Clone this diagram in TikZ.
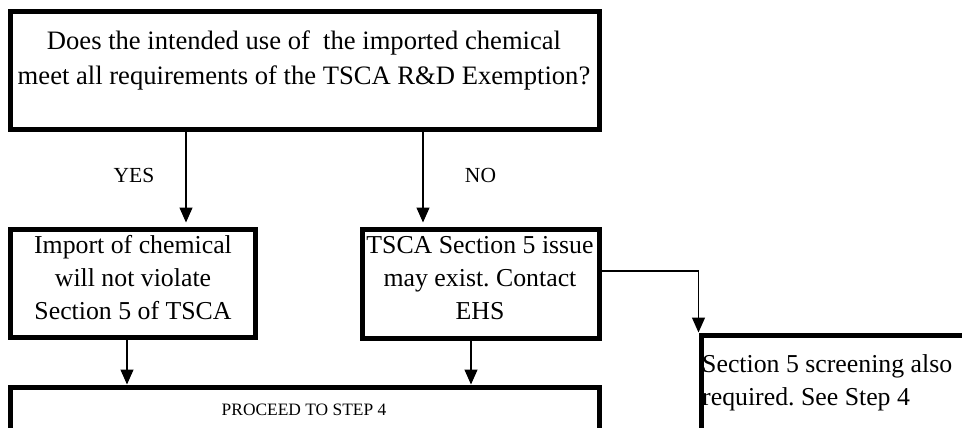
\documentclass[tikz,border=0pt]{standalone}
\usepackage{fontspec}
\setmainfont{Liberation Serif}
\usetikzlibrary{arrows.meta}
\frenchspacing
\begin{document}
\begin{tikzpicture}[x=1pt,y=-1pt,
  box/.style={draw=black,line width=5pt,rectangle,inner sep=0pt},
  bigtxt/.style={font=\fontsize{25.8}{33}\selectfont,align=center,inner sep=0pt},
  toptxt/.style={font=\fontsize{26.6}{35}\selectfont,align=center,inner sep=0pt},
  smalltxt/.style={font=\fontsize{21.5}{24}\selectfont,inner sep=0pt},
  proctxt/.style={font=\fontsize{17.4}{20}\selectfont,inner sep=0pt},
  arr/.style={line width=1.3pt,-{Triangle[width=13pt,length=15pt]}}]
\useasboundingbox (0,0) rectangle (962,428);
\clip (0,0) rectangle (962,428);
% boxes
\node[box,minimum width=589pt,minimum height=117pt] (q) at (304.5,70.5) {};
\node[box,minimum width=245pt,minimum height=108pt] (yb) at (132.5,283) {};
\node[box,minimum width=237pt,minimum height=109pt] (nb) at (480.5,283.5) {};
\node[box,minimum width=589pt,minimum height=83pt] (pb) at (304.5,428.5) {};
\node[box,minimum width=299pt,minimum height=135pt] (rb) at (850.5,402.5) {};
% texts
\node[toptxt] (qt) at (304,60) {Does the intended use of\ \ the imported chemical\\meet all requirements of the TSCA R\&D Exemption?};
\node[bigtxt] (yt) at (133,278) {Import of chemical\\will not violate\\Section 5 of TSCA};
\node[bigtxt] (nt) at (480,278) {TSCA Section 5 issue\\may exist. Contact\\EHS};
\node[bigtxt,align=left,anchor=west] (rt) at (702,383) {Section 5 screening also\\required. See Step 4};
\node[proctxt] (pt) at (304,410) {PROCEED TO STEP 4};
\node[smalltxt] (yes) at (134,175.5) {YES};
\node[smalltxt] (no) at (480.5,175.5) {NO};
% connectors
\coordinate (yx) at (186,0);
\coordinate (nx) at (423,0);
\coordinate (px1) at (127,0);
\coordinate (px2) at (471,0);
\coordinate (c1) at (701,271);
\draw[arr,shorten >=4pt] (q.south -| yx) -- (yb.north -| yx);
\draw[arr,shorten >=4pt] (q.south -| nx) -- (nb.north -| nx);
\draw[arr] (yb.south -| px1) -- (pb.north -| px1);
\draw[arr] (nb.south -| px2) -- (pb.north -| px2);
\draw[arr] (nb.east |- c1) -| (rb.north west);
\end{tikzpicture}
\end{document}
